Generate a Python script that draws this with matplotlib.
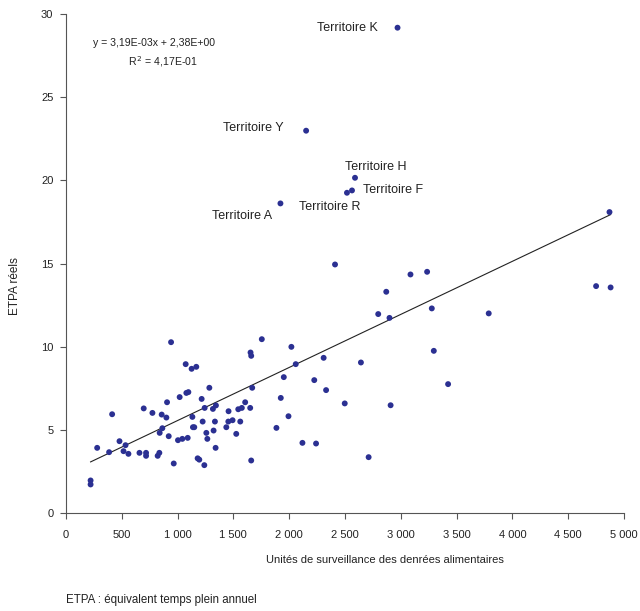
import matplotlib
matplotlib.use("Agg")
import matplotlib.pyplot as plt
import numpy as np

plt.rcParams['font.family'] = ['Liberation Sans Narrow', 'Liberation Sans', 'DejaVu Sans']

# unités de surveillance (x) et ETPA réels (y)
units = [
    221, 221, 280, 387, 414, 480, 516, 534, 560, 659, 697, 718, 718, 775, 822,
    837, 840, 858, 864, 906, 900, 921, 942, 966, 1004, 1019, 1043, 1073, 1079, 1097,
    1091, 1126, 1168, 1133, 1138, 1150, 1180, 1195, 1216, 1225, 1240, 1243, 1258, 1267, 1285,
    1317, 1335, 1344, 1323, 1341, 1437, 1457, 1455, 1493, 1526, 1544, 1576, 1562, 1606, 1651,
    1654, 1660, 1660, 1669, 1755, 1886, 1925, 1952, 1994, 2020, 2059, 2119, 2411, 3087, 3236,
    2870, 2798, 2899, 3278, 3788, 2309, 2225, 2331, 2643, 3296, 3424, 2498, 2909, 2241, 2712,
    4870, 4750, 4880,
]
etpa = [
    1.97, 1.73, 3.93, 3.67, 5.95, 4.33, 3.73, 4.09, 3.57, 3.63, 6.30, 3.63, 3.45, 6.03, 3.45,
    3.63, 4.83, 5.93, 5.11, 6.67, 5.75, 4.63, 10.28, 2.99, 4.39, 6.98, 4.47, 8.96, 7.23, 7.28,
    4.53, 8.68, 8.80, 5.79, 5.17, 5.17, 3.30, 3.22, 6.87, 5.51, 2.89, 6.33, 4.83, 4.47, 7.54,
    6.27, 5.51, 6.48, 4.97, 3.93, 5.17, 6.13, 5.51, 5.59, 4.77, 6.25, 6.33, 5.51, 6.67, 6.33,
    9.66, 9.46, 3.17, 7.54, 10.46, 5.13, 6.93, 8.18, 5.83, 10.00, 8.96, 4.23, 14.95, 14.35, 14.51,
    13.31, 11.97, 11.74, 12.31, 12.01, 9.34, 8.00, 7.40, 9.06, 9.76, 7.76, 6.60, 6.49, 4.19, 3.37,
    18.10, 13.65, 13.57,
]

# territoires nommés
terr_names = ["Territoire K", "Territoire Y", "Territoire H", "Territoire F", "Territoire R", "Territoire A"]
terr_x = [2971, 2152, 2590, 2563, 2518, 1922]
terr_y = [29.18, 22.99, 20.16, 19.40, 19.26, 18.62]

slope = 3.19e-03
intercept = 2.38

all_x = np.array(units + terr_x)
all_y = np.array(etpa + terr_y)

fig = plt.figure(figsize=(6.4, 6.11), dpi=100)
ax = fig.add_axes([0.103, 0.160, 0.872, 0.817])

dot = '#2b3092'
ax.scatter(all_x, all_y, s=18, color=dot, edgecolors='none', zorder=3)

xl = np.array([all_x.min(), all_x.max()])
ax.plot(xl, slope * xl + intercept, color='#222222', lw=0.8, zorder=2)

txt = '#222222'
# étiquettes (décalage en points)
offsets = {
    "Territoire K": ((-14, 0), 'right'),
    "Territoire Y": ((-16, 2), 'right'),
    "Territoire H": ((-7, 8), 'left'),
    "Territoire F": ((8, 0), 'left'),
    "Territoire R": ((10, -10), 'right'),
    "Territoire A": ((-6, -9), 'right'),
}
for name, x, y in zip(terr_names, terr_x, terr_y):
    off, ha = offsets[name]
    ax.annotate(name, (x, y), xytext=off, textcoords='offset points',
                ha=ha, va='center', fontsize=9, color=txt)

ax.text(0.158, 0.943, "y = 3,19E-03x + 2,38E+00", transform=ax.transAxes,
        ha='center', va='center', fontsize=7.6, color=txt)
ax.text(0.174, 0.905, "R$^{\\,2}$ = 4,17E-01", transform=ax.transAxes,
        ha='center', va='center', fontsize=7.6, color=txt)

ax.set_xlim(0, 5000)
ax.set_ylim(0, 30)
ax.set_xticks(range(0, 5001, 500))
ax.set_xticklabels([f"{v:,}".replace(",", " ") for v in range(0, 5001, 500)])
ax.set_yticks(range(0, 31, 5))

for s in ['top', 'right']:
    ax.spines[s].set_visible(False)
for s in ['left', 'bottom']:
    ax.spines[s].set_color('#555555')
    ax.spines[s].set_linewidth(0.8)
ax.tick_params(direction='out', length=4, width=0.8, color='#555555',
               labelsize=8, labelcolor=txt)
ax.tick_params(axis='x', pad=8)
ax.tick_params(axis='y', pad=5)

fig.text(0.602, 0.0835, "Unités de surveillance des denrées alimentaires", fontsize=8,
         color=txt, ha='center', va='center')
fig.text(0.024, 0.532, "ETPA réels", fontsize=8.5, color=txt, rotation=90,
         ha='center', va='center')

fig.text(0.103, 0.018, "ETPA : équivalent temps plein annuel", fontsize=8.3,
         color=txt, ha='left', va='center')

fig.savefig("out.png", dpi=100, facecolor='white')
